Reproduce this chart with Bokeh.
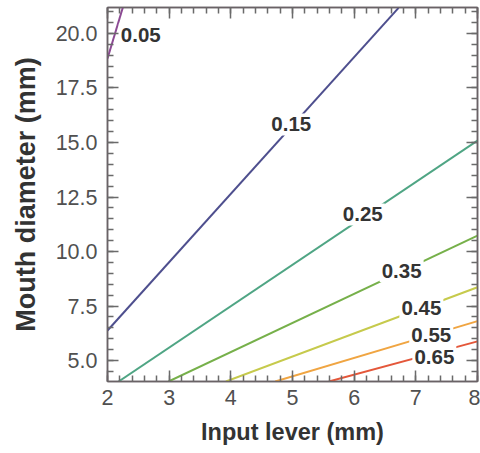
from bokeh.plotting import figure
from bokeh.models import (LinearAxis, SingleIntervalTicker, NumeralTickFormatter,
                          Range1d, ColumnDataSource, CustomJSTickFormatter)
from bokeh.core.properties import value
from bokeh.embed import file_html
from bokeh.resources import INLINE

# Contour levels and their lines (end points)
levels = ["0.05", "0.15", "0.25", "0.35", "0.45", "0.55", "0.65"]
line_x0 = [2.00, 2.00, 2.18, 2.99, 3.92, 4.72, 5.59]
line_y0 = [18.85, 6.38, 4.04, 4.04, 4.04, 4.04, 4.04]
line_x1 = [2.25, 6.72, 8.00, 8.00, 8.00, 8.00, 8.00]
line_y1 = [21.20, 21.17, 15.09, 10.73, 8.36, 6.81, 5.88]
colors = ["#8c4a94", "#4e4f8e", "#4fa584", "#76b04a", "#c6ca4c", "#f0a542", "#e4573a"]

# label positions
label_x = [2.54, 4.98, 6.14, 6.77, 7.09, 7.25, 7.30]
label_y = [19.95, 15.83, 11.70, 9.11, 7.41, 6.19, 5.16]

FONT = "Liberation Sans"

p = figure(width=480, height=453, x_range=Range1d(2, 8), y_range=Range1d(4.04, 21.19),
           output_backend="svg", toolbar_location=None,
           min_border_left=107, min_border_right=3, min_border_top=7, min_border_bottom=72)

p.xgrid.visible = False
p.ygrid.visible = False
p.outline_line_color = "#6a6266"
p.outline_line_width = 1.5
p.background_fill_color = "white"
p.border_fill_color = "white"

xt = SingleIntervalTicker(interval=1, num_minor_ticks=5)
yt = SingleIntervalTicker(interval=2.5, num_minor_ticks=5)

p.xaxis.ticker = xt
p.yaxis.ticker = yt
p.yaxis.formatter = NumeralTickFormatter(format="0.0")
p.xaxis.axis_label = "Input lever (mm)"
p.yaxis.axis_label = "Mouth diameter (mm)"

tick_color = "#6a6a6a"
for ax in [p.xaxis[0], p.yaxis[0]]:
    ax.major_tick_in = 11
    ax.major_tick_out = 0
    ax.minor_tick_in = 6
    ax.minor_tick_out = 0
    ax.major_tick_line_color = tick_color
    ax.minor_tick_line_color = tick_color
    ax.major_tick_line_width = 1.5
    ax.minor_tick_line_width = 1.5
    ax.axis_line_color = "#6a6266"
    ax.axis_line_width = 1.5
    ax.major_label_text_font = FONT
    ax.major_label_text_font_size = "21.5px"
    ax.major_label_text_color = "#505050"
    ax.axis_label_text_font = FONT
    ax.axis_label_text_font_style = "bold"
    ax.axis_label_text_color = "#333333"

p.xaxis.major_label_standoff = 8
p.xaxis.axis_label_standoff = 11
p.xaxis.axis_label_text_font_size = "23.5px"
p.yaxis.major_label_standoff = 10
p.yaxis.axis_label_standoff = 12
p.yaxis.axis_label_text_font_size = "27px"

blank = CustomJSTickFormatter(code="return '';")
for loc, tk in [("above", xt), ("right", yt)]:
    ax = LinearAxis(ticker=tk, formatter=blank, major_label_text_font_size="1px",
                    major_tick_in=11, major_tick_out=0, minor_tick_in=6, minor_tick_out=0,
                    major_tick_line_color=tick_color, minor_tick_line_color=tick_color,
                    major_tick_line_width=1.5, minor_tick_line_width=1.5,
                    axis_line_color="#6a6266", axis_line_width=1.5,
                    major_label_standoff=0)
    p.add_layout(ax, loc)

lines = ColumnDataSource(dict(x0=line_x0, y0=line_y0, x1=line_x1, y1=line_y1, color=colors))
p.segment(x0="x0", y0="y0", x1="x1", y1="y1", line_color="color", line_width=2.0, source=lines)

labs = ColumnDataSource(dict(x=label_x, y=label_y, text=levels))
# white boxes that break the contour lines under their labels
p.rect(x="x", y="y", width=44, height=22, width_units="screen", height_units="screen",
       fill_color="white", line_color=None, source=labs)
p.text(x="x", y="y", text="text", source=labs, text_font=value(FONT), text_font_style="bold",
       text_font_size="20.5px", text_align="center", text_baseline="middle",
       text_color="#333333")

open("out.html", "w").write(file_html(p, INLINE))
